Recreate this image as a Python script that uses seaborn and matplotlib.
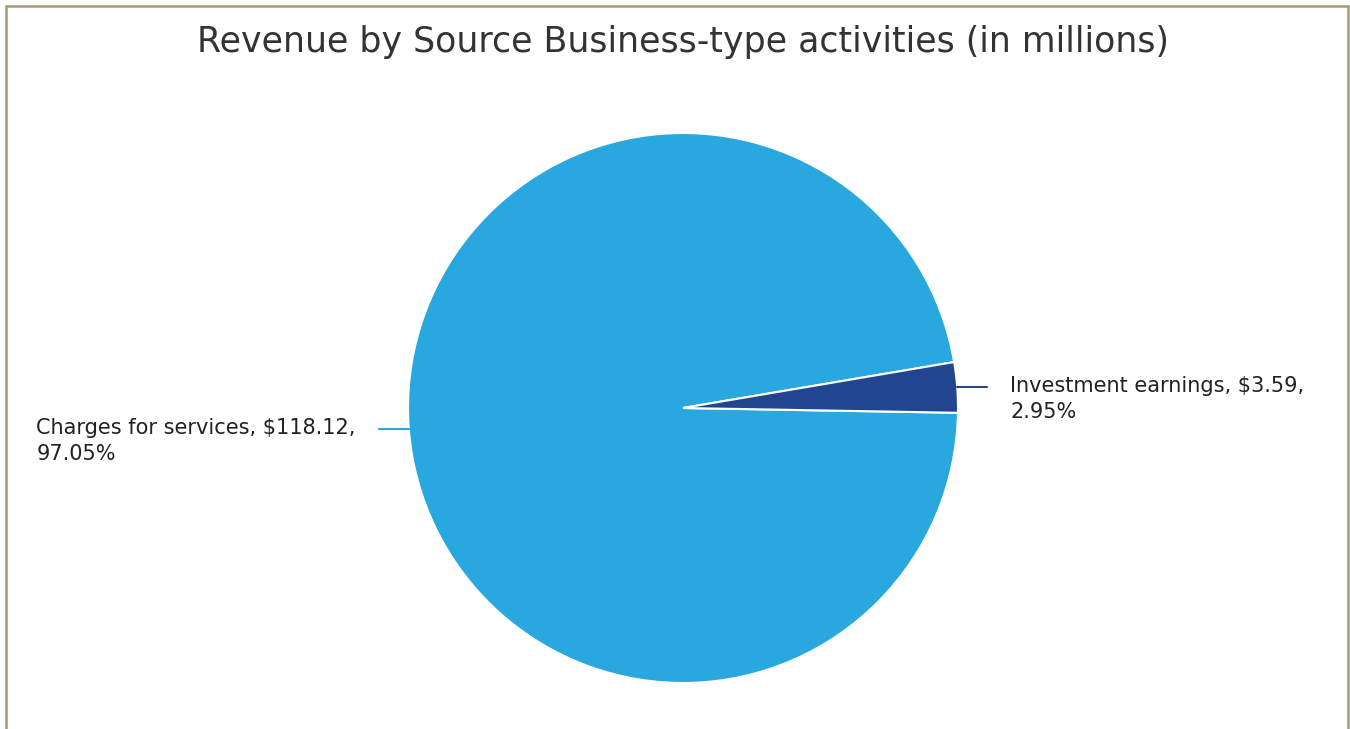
import numpy as np
import matplotlib
matplotlib.use("Agg")
import matplotlib.pyplot as plt
from matplotlib.patches import Rectangle
import seaborn as sns

categories = ["Charges for services", "Investment earnings"]
values = [118.12, 3.59]
colors = ["#29a8e0", "#21468f"]
title = "Revenue by Source Business-type activities (in millions)"

sns.set_theme(style="white")
plt.rcParams['font.family'] = ['DejaVu Sans']

W, H = 1350, 729
fig = plt.figure(figsize=(W / 100, H / 100), dpi=100)
fig.patch.set_facecolor("white")

cx, cy, r = 683, 408, 275
ax = fig.add_axes([(cx - r) / W, (H - cy - r) / H, 2 * r / W, 2 * r / H])
ax.set_aspect("equal")
ax.axis("off")

total = sum(values)
wedges, _ = ax.pie(values, colors=colors, radius=1, center=(0, 0),
                   startangle=-1.0, counterclock=False,
                   wedgeprops=dict(edgecolor="white", linewidth=1.5),
                   frame=False)
ax.set_xlim(-1, 1)
ax.set_ylim(-1, 1)

px = 1 / r
for w, cat, v in zip(wedges, categories, values):
    ang = np.deg2rad((w.theta1 + w.theta2) / 2)
    x0, y0 = np.cos(ang), np.sin(ang)
    side = 1 if x0 > 0 else -1
    x1 = x0 + side * 30 * px
    ax.plot([x0, x1], [y0, y0], color=w.get_facecolor(), lw=1.5, clip_on=False)
    label = f"{cat}, ${v:.2f},\n{v / total * 100:.2f}%"
    ax.text(x1 + side * 23 * px, y0 + 11 * px, label,
            ha="left" if side > 0 else "right", va="top", multialignment="left",
            fontsize=15, color="#222222", linespacing=1.38, clip_on=False)

fig.text(683 / W, 1 - 42 / H, title, ha="center", va="center",
         fontsize=25, color="#333333")

fig.add_artist(Rectangle((6 / W, -0.05), (1348 - 6) / W, 1.05 - 6 / H,
                         transform=fig.transFigure, fill=False,
                         edgecolor="#a39a75", linewidth=1.8))

fig.savefig("out.png", dpi=100, facecolor="white")
